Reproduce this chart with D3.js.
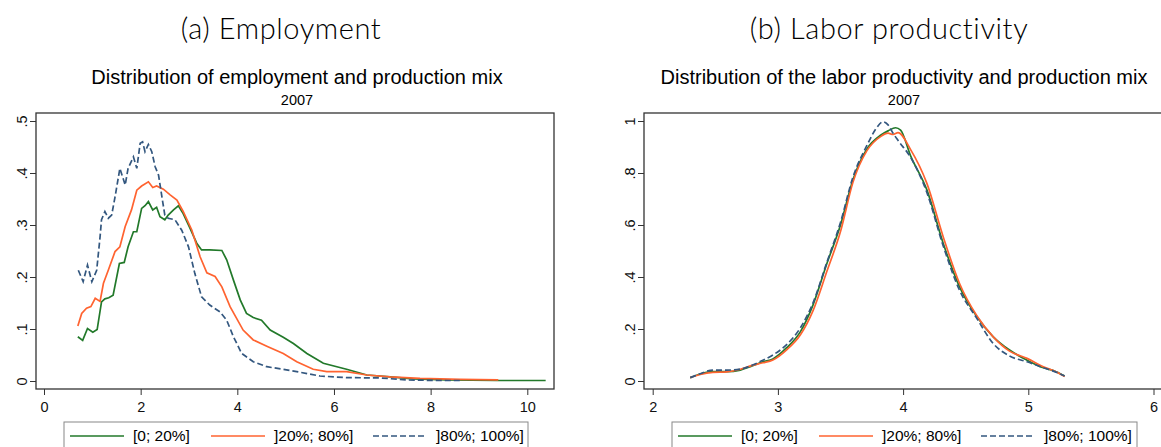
<!DOCTYPE html>
<html>
<head>
<meta charset="utf-8">
<script src="https://cdn.jsdelivr.net/npm/d3@7"></script>
<style>
  body { margin: 0; background: #fff; }
  svg { display: block; }
  .tick text { font-family: "Liberation Sans", Arial, sans-serif; font-size: 14.5px; fill: #111; }
  .tick line { stroke: #333; }
</style>
</head>
<body>
<svg id="chart" width="1161" height="447"></svg>
<script>
// series names, shared by both panels
const seriesNames = ["[0; 20%]", "]20%; 80%]", "]80%; 100%]"];
const seriesColors = ["#22792a", "#ff6330", "#33577f"];

// (a) employment densities, [x, density]
const empLow = [[0.70,0.085],[0.80,0.078],[0.90,0.101],[1.01,0.094],[1.10,0.099],[1.19,0.152],[1.26,0.158],
  [1.34,0.160],[1.43,0.165],[1.56,0.226],[1.66,0.228],[1.74,0.258],[1.85,0.287],[1.92,0.287],[2.02,0.332],
  [2.09,0.337],[2.16,0.345],[2.25,0.329],[2.33,0.334],[2.40,0.316],[2.50,0.310],[2.57,0.319],[2.68,0.329],
  [2.78,0.337],[2.88,0.322],[3.02,0.294],[3.16,0.265],[3.26,0.252],[3.43,0.252],[3.68,0.251],[3.78,0.233],
  [3.92,0.194],[4.06,0.156],[4.19,0.130],[4.33,0.122],[4.50,0.117],[4.68,0.098],[4.95,0.084],[5.16,0.072],
  [5.44,0.053],[5.78,0.034],[6.26,0.0225],[6.68,0.0115],[7.16,0.008],[7.64,0.004],[8.33,0.002],[9.37,0.001],[10.38,0.001]];
const empMid = [[0.70,0.106],[0.78,0.130],[0.88,0.140],[0.97,0.143],[1.06,0.159],[1.16,0.153],[1.23,0.188],
  [1.33,0.213],[1.47,0.249],[1.57,0.258],[1.68,0.297],[1.81,0.329],[1.92,0.367],[2.02,0.375],[2.16,0.383],
  [2.25,0.372],[2.33,0.375],[2.47,0.369],[2.61,0.358],[2.75,0.348],[2.88,0.326],[3.06,0.290],[3.23,0.239],
  [3.37,0.208],[3.54,0.201],[3.68,0.181],[3.85,0.143],[4.12,0.098],[4.33,0.079],[4.61,0.067],[4.95,0.053],
  [5.23,0.037],[5.57,0.0225],[5.85,0.018],[6.26,0.018],[6.68,0.0115],[7.16,0.008],[7.78,0.005],[8.61,0.003],[9.40,0.002]];
const empHigh = [[0.71,0.213],[0.81,0.191],[0.90,0.223],[0.99,0.191],[1.09,0.213],[1.16,0.277],[1.19,0.310],
  [1.26,0.326],[1.33,0.313],[1.40,0.319],[1.47,0.354],[1.57,0.409],[1.68,0.377],[1.74,0.409],[1.85,0.431],
  [1.92,0.409],[1.99,0.457],[2.04,0.460],[2.09,0.441],[2.16,0.455],[2.23,0.441],[2.30,0.412],[2.37,0.396],
  [2.44,0.354],[2.50,0.319],[2.57,0.313],[2.71,0.310],[2.85,0.290],[2.99,0.258],[3.12,0.207],[3.26,0.162],
  [3.43,0.146],[3.64,0.133],[3.78,0.117],[3.92,0.085],[4.09,0.053],[4.33,0.037],[4.61,0.0275],[4.95,0.0225],
  [5.23,0.018],[5.71,0.0096],[6.26,0.0064],[6.95,0.006],[7.50,0.002],[8.13,0.001],[8.61,0.001]];

// (b) labor productivity densities, [x, density]
const prodLow = [[2.30,0.013],[2.38,0.027],[2.48,0.036],[2.59,0.036],[2.70,0.042],[2.78,0.055],[2.88,0.074],
  [2.96,0.085],[3.07,0.128],[3.18,0.190],[3.28,0.292],[3.39,0.450],[3.50,0.600],[3.60,0.775],[3.71,0.892],
  [3.82,0.945],[3.88,0.962],[3.94,0.974],[3.98,0.965],[4.06,0.866],[4.19,0.735],[4.32,0.530],[4.45,0.363],
  [4.59,0.247],[4.72,0.170],[4.85,0.119],[4.99,0.080],[5.12,0.051],[5.20,0.040],[5.29,0.019]];
const prodMid = [[2.30,0.013],[2.38,0.025],[2.48,0.033],[2.59,0.035],[2.70,0.045],[2.78,0.058],[2.88,0.070],
  [2.96,0.081],[3.07,0.120],[3.18,0.178],[3.28,0.270],[3.39,0.420],[3.50,0.575],[3.60,0.765],[3.71,0.885],
  [3.82,0.940],[3.88,0.953],[3.92,0.948],[3.96,0.955],[4.06,0.890],[4.19,0.760],[4.32,0.555],[4.45,0.376],
  [4.59,0.250],[4.72,0.170],[4.85,0.115],[4.99,0.087],[5.12,0.055],[5.20,0.040],[5.29,0.017]];
const prodHigh = [[2.30,0.013],[2.38,0.028],[2.48,0.042],[2.59,0.042],[2.70,0.046],[2.78,0.058],[2.88,0.080],
  [2.96,0.100],[3.07,0.140],[3.18,0.205],[3.28,0.300],[3.39,0.455],[3.50,0.610],[3.60,0.785],[3.71,0.905],
  [3.79,0.975],[3.84,0.997],[3.88,0.985],[3.92,0.953],[3.96,0.925],[4.06,0.860],[4.19,0.725],[4.32,0.520],
  [4.45,0.350],[4.59,0.240],[4.72,0.144],[4.85,0.096],[4.99,0.074],[5.12,0.051],[5.20,0.038],[5.29,0.019]];

const empTicksX = [0, 2, 4, 6, 8, 10];
const empTicksY = [0, 0.1, 0.2, 0.3, 0.4, 0.5];
const empTickLabelsY = ["0", ".1", ".2", ".3", ".4", ".5"];
const prodTicksX = [2, 3, 4, 5, 6];
const prodTicksY = [0, 0.2, 0.4, 0.6, 0.8, 1];
const prodTickLabelsY = ["0", ".2", ".4", ".6", ".8", "1"];

const svg = d3.select("#chart");

function drawPanel(p) {
  let g = svg.append("g");

  // big panel caption
  g.append("text")
    .attr("x", p.captionX).attr("y", 39)
    .attr("text-anchor", "middle")
    .style("font-family", "Lato, 'DejaVu Sans', sans-serif")
    .style("font-weight", 300)
    .style("font-size", "29px")
    .style("letter-spacing", "0.6px")
    .text(p.caption);

  g.append("text")
    .attr("x", p.titleX).attr("y", 84)
    .attr("text-anchor", "middle")
    .style("font-family", "'Liberation Sans', Arial, sans-serif")
    .style("font-size", "20px")
    .text(p.title);

  g.append("text")
    .attr("x", p.titleX).attr("y", 105)
    .attr("text-anchor", "middle")
    .style("font-family", "'Liberation Sans', Arial, sans-serif")
    .style("font-size", "14.5px")
    .text("2007");

  var x = d3.scaleLinear().domain(p.xDomain).range(p.xRange);
  var y = d3.scaleLinear().domain(p.yDomain).range([381, 121]);

  // plot region outline
  g.append("rect")
    .attr("x", p.box[0]).attr("y", 113)
    .attr("width", p.box[1] - p.box[0]).attr("height", 389 - 113)
    .attr("fill", "none").attr("stroke", "#333").attr("stroke-width", 1.3);

  // x axis under the box
  var xa = g.append("g")
    .attr("transform", "translate(0,389)")
    .call(d3.axisBottom(x).tickValues(p.xTicks).tickSize(6).tickPadding(7).tickFormat(d3.format("d")));
  xa.select(".domain").remove();

  // y axis on the left, labels turned
  var ya = g.append("g")
    .attr("transform", "translate(" + p.box[0] + ",0)")
    .call(d3.axisLeft(y).tickValues(p.yTicks).tickSize(6)
      .tickFormat((d, i) => p.yLabels[i]));
  ya.select(".domain").remove();
  ya.selectAll(".tick text")
    .attr("x", 0).attr("dy", 0)
    .attr("transform", "translate(-9,0) rotate(-90)")
    .attr("text-anchor", "middle");

  // curves
  var line = d3.line()
    .x(d => x(d[0]))
    .y(d => y(d[1]))
    .curve(p.curve);

  p.series.forEach((s, i) => {
    g.append("path")
      .datum(s)
      .attr("d", line)
      .attr("fill", "none")
      .attr("stroke", seriesColors[i])
      .attr("stroke-width", 1.7)
      .attr("stroke-dasharray", i == 2 ? "6,3" : null);
  });

  // legend
  var lg = g.append("g");
  lg.append("rect")
    .attr("x", p.legendX).attr("y", 422)
    .attr("width", p.legendW).attr("height", 40)
    .attr("fill", "#fff").attr("stroke", "#888").attr("stroke-width", 1);
  seriesNames.forEach((name, i) => {
    let lx = p.legendX + p.legendItems[i];
    lg.append("line")
      .attr("x1", lx).attr("x2", lx + 54)
      .attr("y1", 436).attr("y2", 436)
      .attr("stroke", seriesColors[i])
      .attr("stroke-width", 1.7)
      .attr("stroke-dasharray", i == 2 ? "6,3" : null);
    lg.append("text")
      .attr("x", lx + 63).attr("y", 441)
      .style("font-family", "'Liberation Sans', Arial, sans-serif")
      .style("font-size", "15.5px")
      .text(name);
  });
}

drawPanel({
  caption: "(a) Employment", captionX: 281,
  title: "Distribution of employment and production mix", titleX: 297,
  xDomain: [0, 10], xRange: [44, 527.3], yDomain: [0, 0.5],
  box: [36, 554],
  xTicks: empTicksX, yTicks: empTicksY, yLabels: empTickLabelsY,
  series: [empLow, empMid, empHigh],
  curve: d3.curveLinear,
  legendX: 64, legendW: 464, legendItems: [6, 147, 309]
});

drawPanel({
  caption: "(b) Labor productivity", captionX: 889,
  title: "Distribution of the labor productivity and production mix", titleX: 904,
  xDomain: [2, 6], xRange: [652.7, 1153.5], yDomain: [0, 1],
  box: [644, 1175],
  xTicks: prodTicksX, yTicks: prodTicksY, yLabels: prodTickLabelsY,
  series: [prodLow, prodMid, prodHigh],
  curve: d3.curveMonotoneX,
  legendX: 672, legendW: 465, legendItems: [6, 147, 309]
});
</script>
</body>
</html>
